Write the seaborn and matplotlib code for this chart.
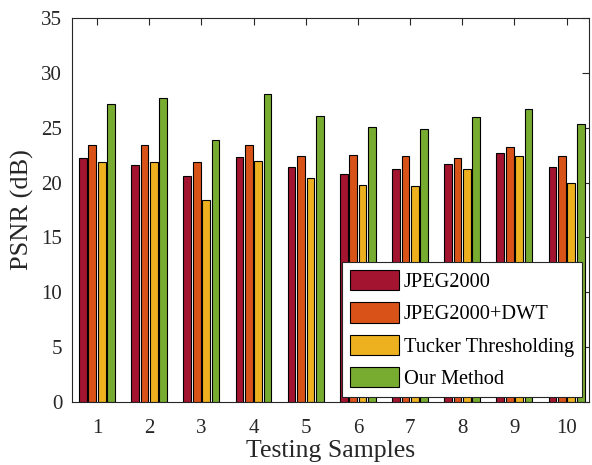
import matplotlib
matplotlib.use("Agg")
import matplotlib.pyplot as plt
import seaborn as sns
import pandas as pd

samples = ["1", "2", "3", "4", "5", "6", "7", "8", "9", "10"]
methods = ["JPEG2000", "JPEG2000+DWT", "Tucker Thresholding", "Our Method"]
jpeg2000 = [22.2, 21.6, 20.6, 22.3, 21.4, 20.8, 21.2, 21.7, 22.7, 21.4]
jpeg2000_dwt = [23.4, 23.4, 21.9, 23.4, 22.4, 22.5, 22.4, 22.2, 23.2, 22.4]
tucker = [21.9, 21.85, 18.45, 21.95, 20.45, 19.8, 19.7, 21.25, 22.4, 19.95]
ours = [27.2, 27.7, 23.9, 28.1, 26.1, 25.1, 24.85, 25.95, 26.7, 25.3]
colors = ["#A2142F", "#D95319", "#EDB120", "#77AC30"]

rows = []
for m, vals in zip(methods, [jpeg2000, jpeg2000_dwt, tucker, ours]):
    for s, v in zip(samples, vals):
        rows.append({"Sample": s, "Method": m, "PSNR": v})
df = pd.DataFrame(rows)

sns.set_theme(style="white")
plt.rcParams["font.family"] = ["Liberation Serif", "DejaVu Serif"]
tc = "#262626"

fig = plt.figure(figsize=(5.92, 4.65), dpi=100)
ax = fig.add_axes([72 / 592, 1 - 402 / 465, (589 - 72) / 592, (402 - 18) / 465])

sns.barplot(data=df, x="Sample", y="PSNR", hue="Method", order=samples,
            hue_order=methods, palette=colors, width=0.72, gap=0.18,
            edgecolor="black", linewidth=0.8, saturation=1, ax=ax,
            errorbar=None)

ax.set_xlim(-0.48, 9.43)
ax.set_ylim(0, 35)
ax.set_yticks(range(0, 36, 5))
ax.set_xlabel("Testing Samples", fontsize=18.5, color=tc, labelpad=2)
ax.set_ylabel("PSNR (dB)", fontsize=19, color=tc, labelpad=5)
ax.tick_params(axis="both", direction="in", length=5, width=0.8, colors=tc,
               labelsize=15, top=True, right=True)
ax.tick_params(axis="x", pad=12)
ax.tick_params(axis="y", pad=7)
for sp in ax.spines.values():
    sp.set_visible(True)
    sp.set_color(tc)
    sp.set_linewidth(0.8)

leg = ax.legend(loc="lower right", bbox_to_anchor=(0.987, 0.013),
                bbox_transform=ax.transAxes, borderaxespad=0,
                fontsize=14.7, frameon=True, fancybox=False, framealpha=1,
                edgecolor=tc, handlelength=2.4, handleheight=1.15,
                labelspacing=0.5, handletextpad=0.25, borderpad=0.4)
leg.get_frame().set_linewidth(0.8)
for t in leg.get_texts():
    t.set_color("black")

fig.savefig("out.png", dpi=100)
